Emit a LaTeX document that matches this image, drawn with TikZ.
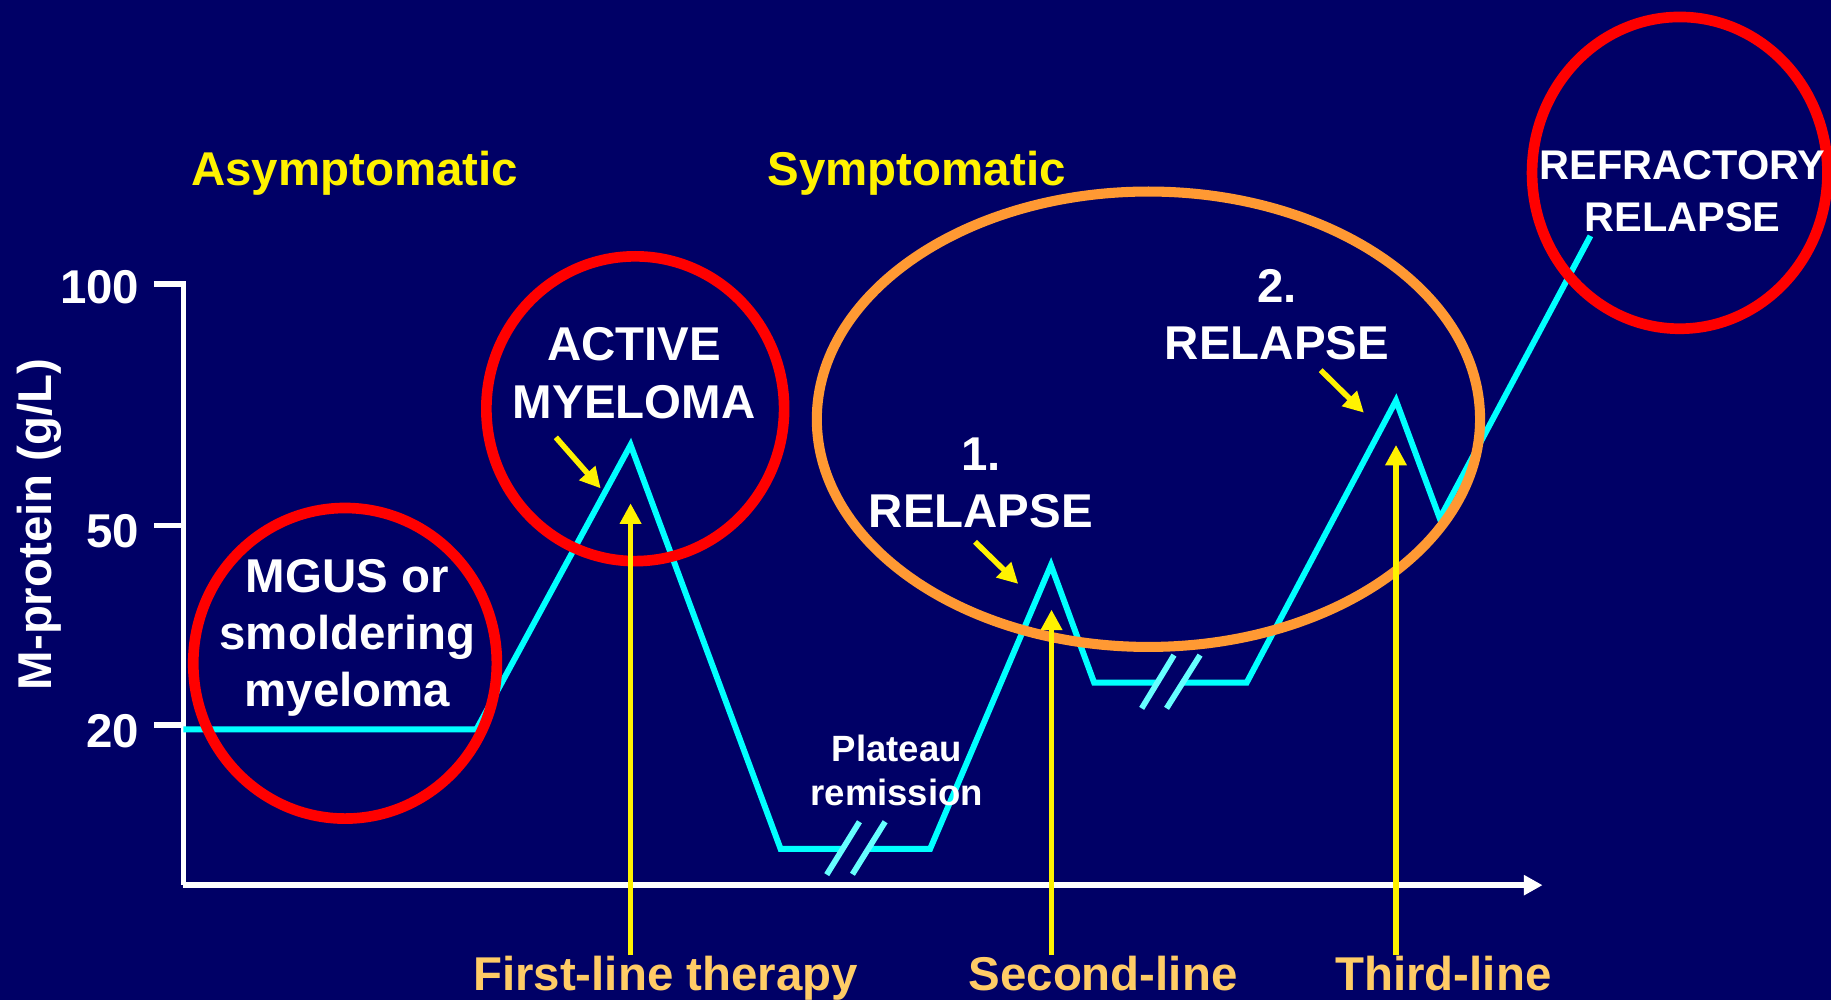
\documentclass[tikz,border=0pt]{standalone}
\usepackage{fontspec}
\setmainfont{Liberation Sans}
\usetikzlibrary{arrows.meta}
\definecolor{navy}{RGB}{0,0,102}
\definecolor{aqua}{RGB}{0,255,255}
\definecolor{paleaqua}{RGB}{102,255,255}
\definecolor{sand}{RGB}{255,204,102}
\definecolor{amber}{RGB}{255,153,51}

\begin{document}
\begin{tikzpicture}[
		x=0.01cm, y=-0.01cm,
		txt/.style={inner sep=0pt, anchor=base, align=center,
			font=\fontsize{11.55}{13.9}\selectfont\bfseries},
		label/.style={txt, text=white},
		phase/.style={txt, text=yellow},
		therapy/.style={txt, text=sand},
		note/.style={txt, text=white, font=\fontsize{8.9}{10.8}\selectfont\bfseries},
		tag/.style={txt, text=white, font=\fontsize{10.1}{12.6}\selectfont\bfseries},
		axisline/.style={white, line width=1.35pt},
		trace/.style={aqua, line width=1.45pt},
		cut/.style={paleaqua, line width=1.4pt},
		redring/.style={red, line width=2.6pt},
		oval/.style={amber, line width=2.45pt},
		pointer/.style={yellow, line width=1.35pt,
			-{Triangle[length=1.75mm, width=1.75mm]}},
		]
		
		\fill[navy] (0,0) rectangle (1568,856);
		\useasboundingbox (0,0) rectangle (1568,856);
		
		\draw[axisline] (132,243) -| (157,758);
		\draw[axisline, -{Triangle[length=1.6mm, width=1.65mm]}] (157,758) -- (1321,758);
		\draw[axisline] (132,450) -- (157,450);
		\draw[axisline] (132,621) -- (157,621);
		
		\draw[trace] (157,624.6) -- (408,624.6) -- (540,381) -- (668.5,727) -- (721.7,727);
		\draw[trace] (743.7,727) -- (796.5,727) -- (900,484) -- (937,584.6) -- (991,584.6);
		\draw[trace] (1012.8,584.6) -- (1067.6,584.6) -- (1195.5,343) -- (1233,444) -- (1362,202);
		
		\draw[cut] (708,749) -- (736,703.7);
		\draw[cut] (730,748.7) -- (758,703.7);
		\draw[cut] (977.7,606.6) -- (1005.4,561);
		\draw[cut] (999,606.6) -- (1027.7,561);
		
		\draw[redring] (295.5,568) ellipse [x radius=130, y radius=133];
		\draw[redring] (544,350) ellipse [x radius=127.5, y radius=130.5];
		\draw[redring] (1438.5,148) ellipse [x radius=126.5, y radius=133.5];
		\draw[oval] (983.5,359) ellipse [x radius=284, y radius=195];
		
		\coordinate (first) at (540,818);
		\coordinate (second) at (900.5,818);
		\coordinate (third) at (1195.5,818);
		\coordinate (peak1) at (540,431);
		\coordinate (peak2) at (900.5,522);
		\coordinate (peak3) at (1195.5,381);
		\draw[pointer] (first) -- (peak1);
		\draw[pointer] (second) -- (peak2);
		\draw[pointer] (third) -- (peak3);
		
		\coordinate (act0) at (476,374.5);
		\coordinate (act1) at (514.4,418.2);
		\coordinate (rel0) at (835,464);
		\coordinate (rel1) at (872,500);
		\coordinate (relb0) at (1131,317);
		\coordinate (relb1) at (1168,353.4);
		\draw[pointer] (act0) -- (act1);
		\draw[pointer] (rel0) -- (rel1);
		\draw[pointer] (relb0) -- (relb1);
		
		\node[phase] (asym) at (303.6,159) {Asymptomatic};
		\node[phase] (sym) at (785,159) {Symptomatic};
		\node[label, rotate=90] (ylab) at (44,449) {M-protein (g/L)};
		\node[label, anchor=base east] (v100) at (120,260) {100};
		\node[label, anchor=base east] (v50) at (120,469) {50};
		\node[label, anchor=base east] (v20) at (120,640) {20};
		
		\node[label] (mgus) at (297.5,605) {MGUS or\\smoldering\\myeloma};
		\node[label] (active) at (543,358) {ACTIVE\\MYELOMA};
		\node[label] (relapse1) at (840,452) {1.\\RELAPSE};
		\node[label] (relapse2) at (1093.5,308) {2.\\RELAPSE};
		\node[tag] (refract) at (1441,198.4) {REFRACTORY\\RELAPSE};
		\node[note] (plateau) at (768,690) {Plateau\\remission};
		
		\node[therapy] (line1) at (570,848) {First-line therapy};
		\node[therapy] (line2) at (944.6,848) {Second-line};
		\node[therapy] (line3) at (1236,848) {Third-line};
		
	\end{tikzpicture}
\end{document}
